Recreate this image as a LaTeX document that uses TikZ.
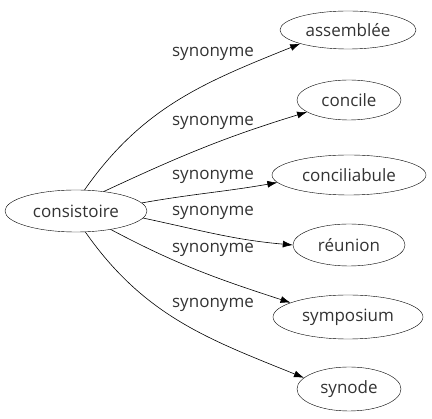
\documentclass[tikz,border=0pt]{standalone}
\usepackage{fontspec}
\setmainfont{Open Sans}
\usetikzlibrary{shapes.geometric,arrows.meta}
\begin{document}
\begin{tikzpicture}[x=1pt,y=-1pt,
  word/.style={draw,ellipse,inner sep=0pt,font=\fontsize{17}{19}\selectfont,text=black!80},
  lbl/.style={font=\fontsize{17}{19}\selectfont,text=black!80},
  link/.style={draw,-{Latex[length=10pt,width=7pt]},line width=0.6pt}]
\useasboundingbox (0,0) rectangle (432,419);
\node[word,minimum width=142pt,minimum height=42pt] (c) at (76,211) {consistoire};
\node[word,minimum width=136pt,minimum height=38pt] (a) at (348,30) {assemblée};
\node[word,minimum width=104pt,minimum height=40pt] (b) at (349,100) {concile};
\node[word,minimum width=154pt,minimum height=40pt] (d) at (349,175) {conciliabule};
\node[word,minimum width=112pt,minimum height=42pt] (e) at (349,245) {réunion};
\node[word,minimum width=150pt,minimum height=44pt] (f) at (348,317) {symposium};
\node[word,minimum width=104pt,minimum height=44pt] (g) at (349,389) {synode};
\draw[link] (c.68) to[out=55,in=202] (a.196);
\draw[link] (c.35) to[out=25,in=197] (b.196);
\draw[link] (c.7) to[out=10,in=190] (d.186);
\draw[link] (c.-6) to[out=-12,in=175] (e.180);
\draw[link] (c.-28) to[out=-28,in=162] (f.166);
\draw[link] (c.-66) to[out=-55,in=158] (g.166);
\node[lbl] (l1) at (213,54) {synonyme};
\node[lbl] (l2) at (213,123) {synonyme};
\node[lbl] (l3) at (213,177) {synonyme};
\node[lbl] (l4) at (213,213) {synonyme};
\node[lbl] (l5) at (213,250) {synonyme};
\node[lbl] (l6) at (213,305) {synonyme};
\end{tikzpicture}
\end{document}
